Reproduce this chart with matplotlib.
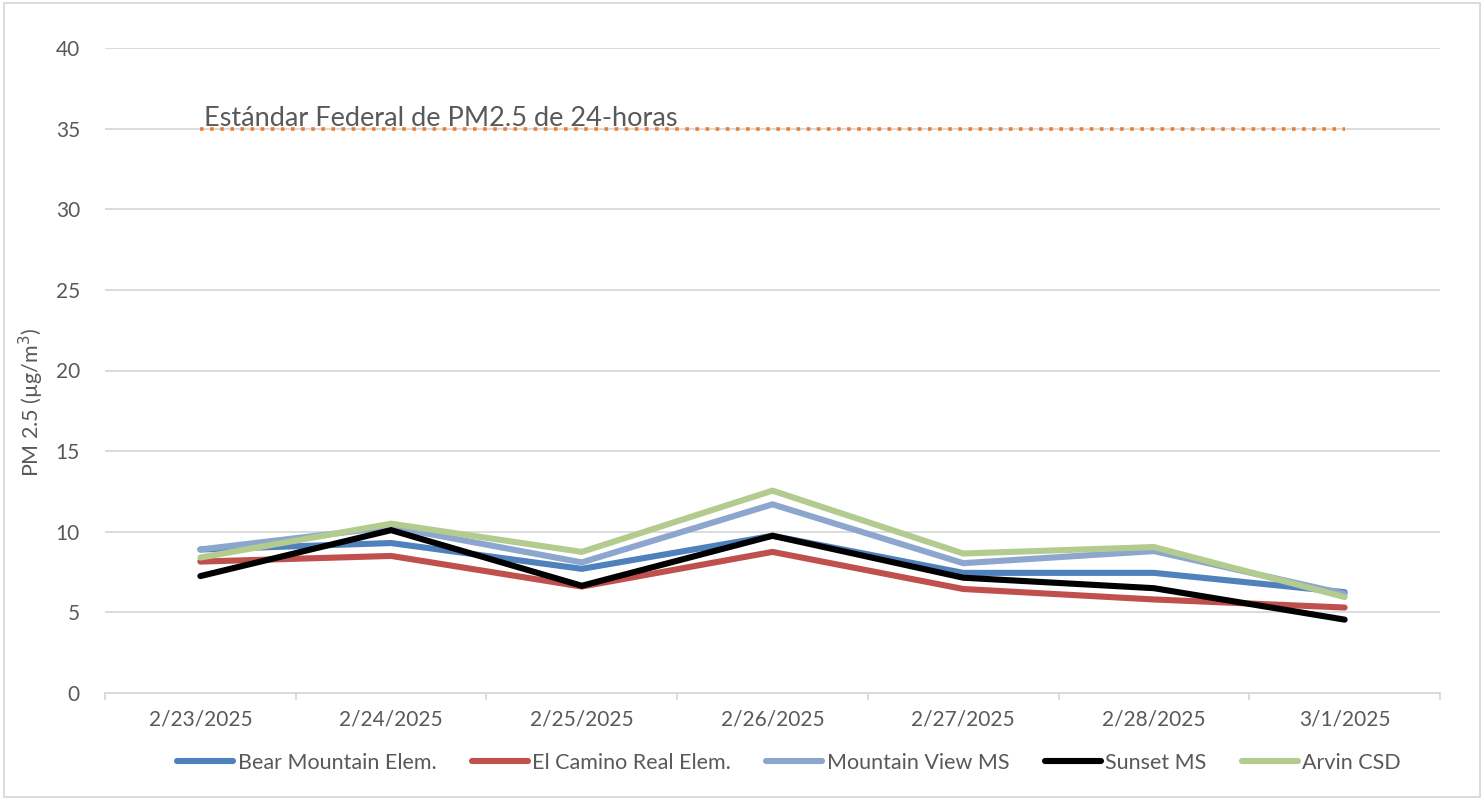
import matplotlib.pyplot as plt
import matplotlib.patches as patches
import numpy as np

plt.rcParams['font.family'] = ['Lato', 'DejaVu Sans']

dates = ["2/23/2025", "2/24/2025", "2/25/2025", "2/26/2025",
         "2/27/2025", "2/28/2025", "3/1/2025"]
bear_mountain = [8.9, 9.3, 7.7, 9.75, 7.45, 7.45, 6.25]
el_camino = [8.15, 8.5, 6.6, 8.75, 6.45, 5.8, 5.3]
mountain_view = [8.9, 10.3, 8.1, 11.7, 8.05, 8.8, 6.15]
sunset = [7.25, 10.1, 6.65, 9.75, 7.15, 6.5, 4.55]
arvin = [8.4, 10.5, 8.75, 12.55, 8.65, 9.05, 5.95]
standard = 35
standard_label = "Estándar Federal de PM2.5 de 24-horas"

series = [
    ("Bear Mountain Elem.", bear_mountain, "#4f81bd"),
    ("El Camino Real Elem.", el_camino, "#c0504d"),
    ("Mountain View MS", mountain_view, "#8da6ce"),
    ("Sunset MS", sunset, "#000000"),
    ("Arvin CSD", arvin, "#b3cb8f"),
]

text_col = "#595959"
grid_col = "#d9d9d9"

fig = plt.figure(figsize=(14.84, 8), dpi=100)
ax = fig.add_axes([105 / 1484, 1 - 693 / 800, (1440 - 105) / 1484, (693 - 48) / 800])

x = np.arange(len(dates))

# reference line for the federal standard
ax.plot(x, [standard] * len(x), color="#ed7d31", lw=2.6,
        linestyle=(0, (1, 1.8)), zorder=2)
ax.text(0.02, 35.15, standard_label, fontsize=19.5, color=text_col,
        va="baseline", ha="left", zorder=3)

for name, vals, col in series:
    ax.plot(x, vals, color=col, lw=4.4, label=name,
            solid_capstyle="round", solid_joinstyle="miter", zorder=3)

ax.set_xlim(-0.5, len(dates) - 0.5)
ax.set_ylim(0, 40)
ax.set_yticks(np.arange(0, 41, 5))
ax.set_xticks(x)
ax.set_xticklabels(dates)
ax.set_xticks(np.arange(-0.5, len(dates), 1), minor=True)

ax.grid(axis="y", color=grid_col, lw=1.3, zorder=0)
for s in ["top", "right", "left"]:
    ax.spines[s].set_visible(False)
ax.spines["bottom"].set_color(grid_col)
ax.spines["bottom"].set_linewidth(1.3)

ax.tick_params(axis="y", length=0, pad=18, labelsize=15, labelcolor=text_col)
ax.tick_params(axis="x", which="major", length=0, pad=12, labelsize=15,
               labelcolor=text_col)
ax.tick_params(axis="x", which="minor", length=5, width=1.3, color=grid_col)

ax.set_ylabel("PM 2.5 (µg/m$^3$)", fontsize=15.5, color=text_col)
ax.yaxis.set_label_coords(-0.044, 0.45)

leg = ax.legend(loc="center", bbox_to_anchor=(789 / 1484, 1 - 763 / 800),
                bbox_transform=fig.transFigure, ncol=5, frameon=False,
                fontsize=15.5, handlelength=2.6, handletextpad=0.2,
                columnspacing=1.65, borderaxespad=0)
for t in leg.get_texts():
    t.set_color(text_col)

# chart area border
fig.patches.append(patches.Rectangle((4 / 1484, 3 / 800), 1 - 8 / 1484, 1 - 6 / 800,
                                     transform=fig.transFigure, fill=False,
                                     edgecolor=grid_col, lw=1.3))

fig.savefig("out.png", dpi=100)
